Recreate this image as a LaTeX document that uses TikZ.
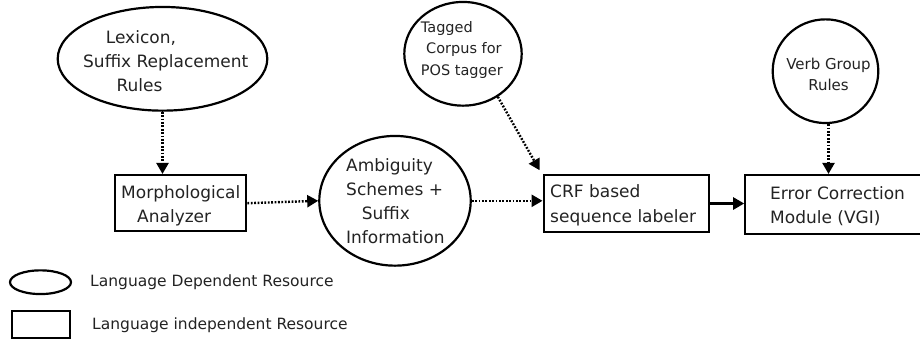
\documentclass[tikz,border=0pt]{standalone}
\usepackage{fontspec}
\setmainfont{DejaVu Sans}
\usetikzlibrary{shapes.geometric,arrows.meta,calc}
\definecolor{txtgray}{RGB}{35,35,35}
\begin{document}
\begin{tikzpicture}[x=1pt,y=-1pt,
  res/.style={ellipse, draw, line width=2.2pt, inner sep=0pt},
  proc/.style={rectangle, draw, line width=2.2pt, inner sep=0pt},
  lbl/.style={inner sep=0pt, align=left, anchor=west, text=txtgray},
  fbig/.style={font=\fontsize{17}{24}\selectfont},
  fmid/.style={font=\fontsize{15}{21}\selectfont},
  fsmall/.style={font=\fontsize{14.5}{21.5}\selectfont},
  dotarrow/.style={line width=2.4pt, dash pattern=on 1.8pt off 1.6pt, -{Triangle[length=11pt,width=12pt]}},
  solidarrow/.style={line width=2.4pt, -{Triangle[length=11pt,width=12pt]}}]
\clip (0,0) rectangle (920,349);
\fill[white] (0,0) rectangle (920,349);

% resources (ellipses)
\node[res, minimum width=209.6pt, minimum height=103.7pt] (lex) at (162.5,58.8) {};
\node[res, minimum width=117.4pt, minimum height=103.7pt] (tag) at (463,53.8) {};
\node[res, minimum width=151.4pt, minimum height=129.7pt] (amb) at (395,200.8) {};
\node[res, minimum width=105.6pt, minimum height=103.7pt] (verb) at (825.5,71.2) {};

% processes (boxes)
\node[proc, minimum width=131pt, minimum height=56.3pt] (morph) at (180.8,203.2) {};
\node[proc, minimum width=165.3pt, minimum height=56.4pt] (crf) at (626.3,203.5) {};
\node[proc, minimum width=183pt, minimum height=59pt] (err) at (836.8,204.5) {};

% labels
\node[lbl, fbig] (lexT) at (83,62.7) {\hspace*{22.7pt}\strut Lexicon,\\\strut Suffix Replacement\\\hspace*{33.4pt}\strut Rules};
\node[lbl, fsmall] (tagT) at (420.7,49.3) {\strut Tagged\\\hspace*{5.3pt}\strut Corpus for\\\strut POS tagger};
\node[lbl, fbig] (ambT) at (346,202.2) {\strut Ambiguity\\\strut Schemes +\\\hspace*{15.7pt}\strut Suffix\\\strut Information};
\node[inner sep=0pt, align=center, text=txtgray, fmid] (verbT) at (828.5,76.2) {\strut Verb Group\\\strut Rules};
\node[lbl, fbig] (morphT) at (121,206) {\strut Morphological\\\hspace*{16pt}\strut Analyzer};
\node[lbl, font=\fontsize{17}{25}\selectfont] (crfT) at (550,204.8) {\strut CRF based\\\strut sequence labeler};
\node[lbl, fbig] (errT) at (770,206.8) {\strut Error Correction\\\strut Module (VGI)};

% connectors
\draw[dotarrow] (lex.south) -- (lex.south |- morph.north);
\draw[dotarrow] (morph.east) -- (amb.west);
\draw[dotarrow] (amb.east) -- (amb.east -| crf.west);
\draw[dotarrow] (tag.-51) -- ([shift={(-3,-4)}]crf.north west);
\draw[dotarrow] ([xshift=3pt]verb.south) -- ([xshift=3pt]verb.south |- err.north);
\draw[solidarrow] (crf.east) -- (crf.east -| err.west);

% legend
\node[res, minimum width=61pt, minimum height=23.7pt] (legE) at (40.5,282.2) {};
\node[proc, minimum width=58pt, minimum height=27.3pt] (legR) at (41,324.7) {};
\node[lbl, font=\fontsize{15.5}{20}\selectfont] (legET) at (90,282) {Language Dependent Resource};
\node[lbl, font=\fontsize{15.5}{20}\selectfont] (legRT) at (92,325) {Language independent Resource};
\end{tikzpicture}
\end{document}
